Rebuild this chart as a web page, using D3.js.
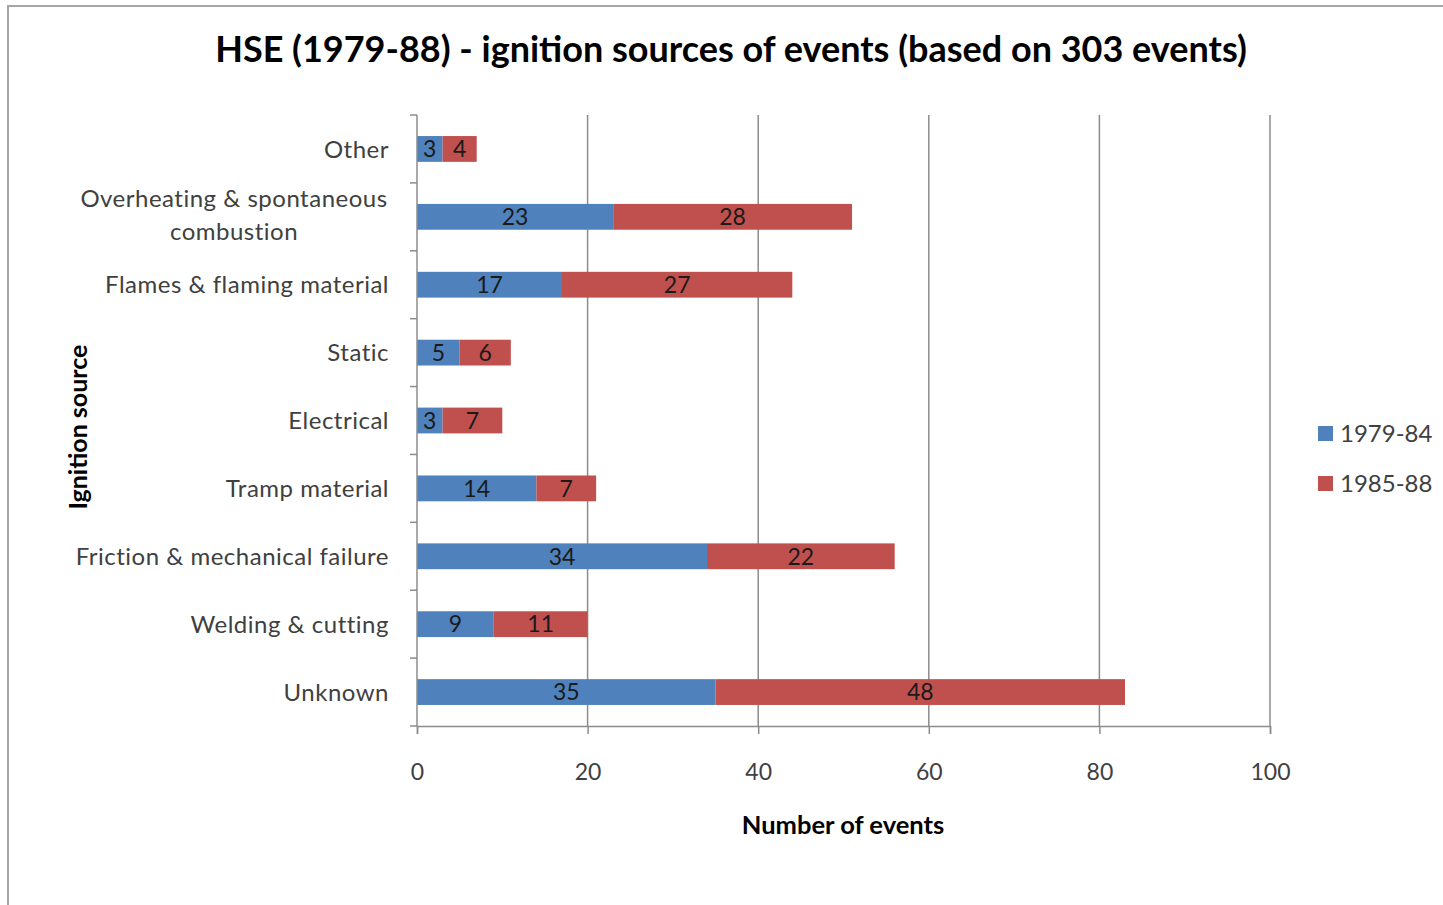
<!DOCTYPE html>
<html>
<head>
<meta charset="utf-8">
<script src="https://cdn.jsdelivr.net/npm/d3@7"></script>
<style>
 body { margin:0; background:#fff; }
 svg text { font-family: Lato, "Open Sans", sans-serif; }
</style>
</head>
<body>
<svg id="chart" width="1443" height="905"></svg>
<script>
// data, top to bottom as shown
var categories = ["Other", "Overheating & spontaneous combustion", "Flames & flaming  material", "Static",
  "Electrical", "Tramp material", "Friction & mechanical failure", "Welding & cutting", "Unknown"];
var series1 = [3, 23, 17, 5, 3, 14, 34, 9, 35];   // 1979-84
var series2 = [4, 28, 27, 6, 7, 7, 22, 11, 48];   // 1985-88
var seriesNames = ["1979-84", "1985-88"];
var xTicks = [0, 20, 40, 60, 80, 100];

var svg = d3.select("#chart");
var colors = ["#4F81BD", "#C0504D"];

// outer frame (cut off on right and bottom like the screenshot)
svg.append("path").attr("d", "M8,905 V6 H1443").attr("fill", "none")
  .attr("stroke", "#a6a6a6").attr("stroke-width", 2);

var pLeft = 417, pRight = 1270, pTop = 115, pBottom = 726;

var x = d3.scaleLinear().domain([0, 100]).range([pLeft, pRight]);
var y = d3.scaleBand().domain(categories).range([pTop, pBottom]).paddingInner(0.62).paddingOuter(0.31);

// grid
svg.append("g").selectAll("line").data(xTicks.slice(1)).enter().append("line")
  .attr("x1", function(d){ return x(d); }).attr("x2", function(d){ return x(d); })
  .attr("y1", pTop).attr("y2", pBottom)
  .attr("stroke", "#8c8c8c").attr("stroke-width", 1.5);

var stacked = categories.map(function(c, i){
  return [{cat:c, s:0, x0:0, v:series1[i]}, {cat:c, s:1, x0:series1[i], v:series2[i]}];
});
var segs = d3.merge(stacked);

svg.append("g").selectAll("rect").data(segs).enter().append("rect")
  .attr("x", function(d){ return x(d.x0); })
  .attr("y", function(d){ return y(d.cat); })
  .attr("width", function(d){ return x(d.x0 + d.v) - x(d.x0); })
  .attr("height", y.bandwidth())
  .attr("fill", function(d){ return colors[d.s]; });

svg.append("g").selectAll("text").data(segs).enter().append("text")
  .attr("x", function(d){ return x(d.x0 + d.v / 2); })
  .attr("y", function(d){ return y(d.cat) + y.bandwidth() / 2; })
  .attr("dy", "0.36em")
  .attr("text-anchor", "middle")
  .attr("font-size", 23)
  .attr("fill", "#1a1a1a")
  .text(function(d){ return d.v; });

// x axis
var xAxis = svg.append("g").attr("transform", "translate(0," + pBottom + ")")
  .call(d3.axisBottom(x).tickValues(xTicks).tickSize(8).tickPadding(30));
xAxis.select(".domain").attr("stroke", "#8c8c8c").attr("stroke-width", 1.5);
xAxis.selectAll(".tick line").attr("stroke", "#8c8c8c").attr("stroke-width", 1.5);
xAxis.selectAll("text").attr("font-size", 23).attr("fill", "#404040")
  .style("font-family", "Lato, sans-serif");

// y axis: ticks at category boundaries
var bounds = d3.range(categories.length + 1).map(function(i){ return pTop + i * (pBottom - pTop) / categories.length; });
svg.append("line").attr("x1", pLeft).attr("x2", pLeft).attr("y1", pTop).attr("y2", pBottom)
  .attr("stroke", "#8c8c8c").attr("stroke-width", 1.5);
svg.append("g").selectAll("line").data(bounds).enter().append("line")
  .attr("x1", pLeft - 7).attr("x2", pLeft)
  .attr("y1", function(d){ return d; }).attr("y2", function(d){ return d; })
  .attr("stroke", "#8c8c8c").attr("stroke-width", 1.5);

var labelG = svg.append("g");
categories.forEach(function(c){
  var cy = y(c) + y.bandwidth() / 2;
  if (c.indexOf("Overheating") === 0) {
    var t = labelG.append("text").attr("text-anchor", "middle").attr("font-size", 24)
      .attr("letter-spacing", 0.5).attr("fill", "#404040");
    t.append("tspan").attr("x", 234).attr("y", cy - 18).attr("dy", "0.36em").text("Overheating & spontaneous");
    t.append("tspan").attr("x", 234).attr("y", cy + 15).attr("dy", "0.36em").text("combustion");
  } else {
    labelG.append("text").attr("x", 389).attr("y", cy).attr("dy", "0.36em")
      .attr("text-anchor", "end").attr("font-size", 24).attr("letter-spacing", 0.5)
      .attr("fill", "#404040").text(c);
  }
});

// titles
svg.append("text").attr("x", 731).attr("y", 62).attr("text-anchor", "middle")
  .attr("font-size", 36).attr("font-weight", "bold").attr("fill", "#000")
  .text("HSE (1979-88) - ignition sources of events (based on 303 events)");
svg.append("text").attr("x", 843).attr("y", 834).attr("text-anchor", "middle")
  .attr("font-size", 25.5).attr("font-weight", "bold").attr("fill", "#000")
  .text("Number of events");
svg.append("text").attr("transform", "translate(87,427) rotate(-90)").attr("text-anchor", "middle")
  .attr("font-size", 25).attr("font-weight", "bold").attr("fill", "#000")
  .text("Ignition source");

// legend
var leg = svg.append("g").selectAll("g").data(seriesNames).enter().append("g")
  .attr("transform", function(d, i){ return "translate(1318," + (433 + i * 50) + ")"; });
leg.append("rect").attr("x", 0).attr("y", -7).attr("width", 15).attr("height", 15)
  .attr("fill", function(d, i){ return colors[i]; });
leg.append("text").attr("x", 22).attr("y", 0).attr("dy", "0.36em")
  .attr("font-size", 24).attr("fill", "#404040").text(function(d){ return d; });
</script>
</body>
</html>
